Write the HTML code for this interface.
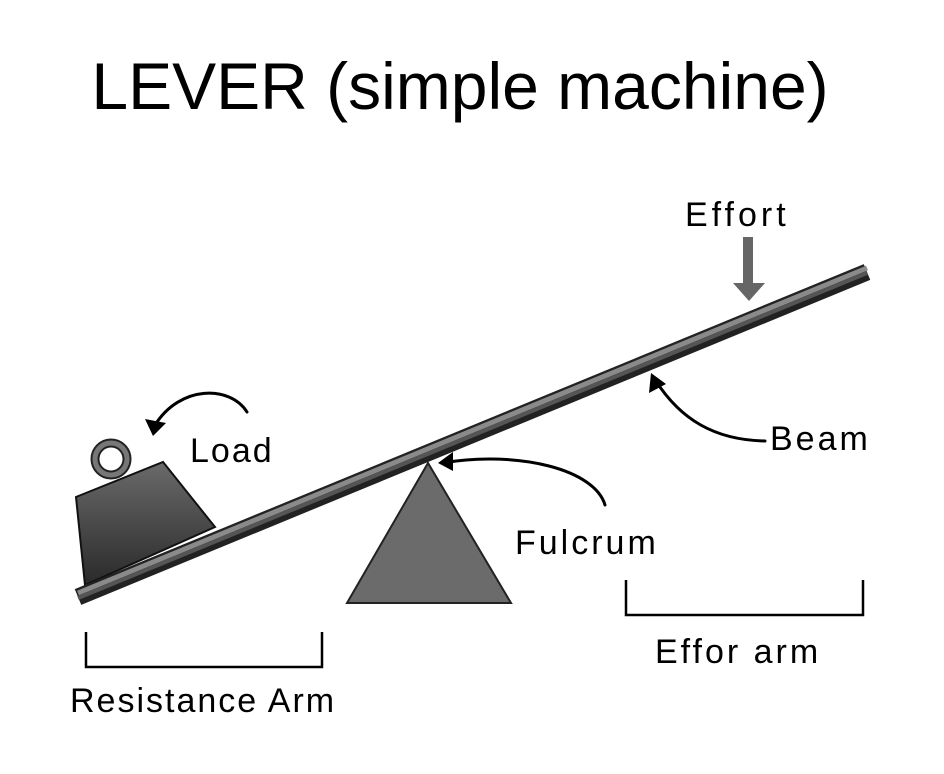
<!DOCTYPE html>
<html><head><meta charset="utf-8"><style>
html,body{margin:0;padding:0;background:#fff;}
svg{display:block;}
text{font-family:"Liberation Sans",sans-serif;fill:#000;}
</style></head><body>
<svg width="944" height="774" viewBox="0 0 944 774" xmlns="http://www.w3.org/2000/svg">
<defs>
<linearGradient id="wt" x1="0" y1="0" x2="0" y2="1">
<stop offset="0" stop-color="#6a6a6a"/><stop offset="1" stop-color="#2a2a2a"/></linearGradient>
</defs>
<text x="460" y="109" font-size="66" text-anchor="middle">LEVER (simple machine)</text>

<!-- weight -->
<circle cx="111" cy="459" r="16" fill="none" stroke="#222" stroke-width="9"/>
<circle cx="111" cy="459" r="16" fill="none" stroke="#777" stroke-width="5"/>
<polygon points="76,497 163,462 215,527 85,585" fill="url(#wt)" stroke="#111" stroke-width="2"/>

<!-- triangle -->
<polygon points="428,463 347,603 511,603" fill="#6b6b6b" stroke="#222" stroke-width="2"/>

<!-- beam -->
<line x1="78" y1="597" x2="867" y2="272" stroke="#222" stroke-width="17"/>
<line x1="78" y1="593" x2="867" y2="268" stroke="#8a8a8a" stroke-width="5"/>
<line x1="78" y1="598" x2="867" y2="273" stroke="#555" stroke-width="4"/>

<!-- effort arrow -->
<rect x="743" y="237" width="10" height="48" fill="#666"/>
<polygon points="733,283 765,283 749,301" fill="#666"/>

<!-- curved arrows -->
<g fill="none" stroke="#000" stroke-width="3" stroke-linecap="round">
<path d="M247,412 C230,385 180,385 155,425"/>
<path d="M765,441 C715,440 680,420 654,378"/>
<path d="M605,505 C595,470 520,450 442,463"/>
</g>
<g fill="#000">
<polygon points="145,419 153,436 166,423"/>
<polygon points="649,393 651,373 666,384"/>
<polygon points="453,452 438,463 453,471"/>
</g>
<!-- brackets -->
<g fill="none" stroke="#000" stroke-width="2.5">
<path d="M86,632 V667 H322 V632"/>
<path d="M626,580 V615 H863 V580"/>
</g>

<g font-size="34">
<text x="685" y="226" letter-spacing="4">Effort</text>
<text x="190" y="462" letter-spacing="2">Load</text>
<text x="770" y="450" letter-spacing="3">Beam</text>
<text x="515" y="554" letter-spacing="3">Fulcrum</text>
<text x="655" y="663" letter-spacing="3">Effor arm</text>
<text x="70" y="712" letter-spacing="2">Resistance Arm</text>
</g>
</svg>
</body></html>
